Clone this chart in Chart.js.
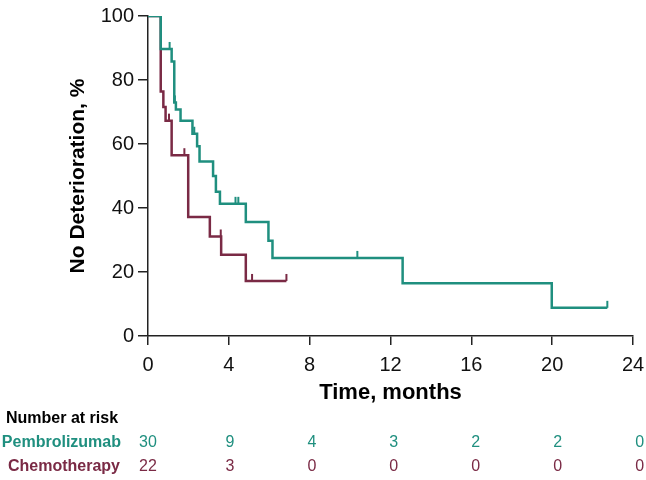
<!DOCTYPE html>
<html>
<head>
<meta charset="utf-8">
<script src="https://cdn.jsdelivr.net/npm/chart.js@4/dist/chart.umd.min.js"></script>
<style>
  html, body { margin: 0; padding: 0; background: #fff; }
  #wrap { width: 646px; height: 480px; }
</style>
</head>
<body>
<div id="wrap"><canvas id="km"></canvas></div>
<script>
// Kaplan-Meier steps (time in months, % without deterioration)
var pembroTimes  = [0, 0.63, 1.17, 1.30, 1.38, 1.61, 2.20, 2.43, 2.55, 3.22, 3.36, 3.56, 4.84, 5.96, 6.16, 12.6, 19.98, 22.73];
var pembroValues = [100, 89.7, 85.8, 73.0, 70.8, 67.3, 63.2, 59.3, 54.5, 50.0, 45.1, 41.3, 35.6, 29.8, 24.4, 16.5, 8.8, 8.8];
var pembroCensorTimes  = [0.66, 1.07, 1.33, 2.29, 4.33, 4.47, 10.36, 22.73];
var pembroCensorValues = [100, 89.7, 73.0, 63.2, 41.3, 41.3, 24.4, 8.8];

var chemoTimes  = [0, 0.63, 0.76, 0.87, 1.17, 1.99, 3.06, 3.62, 4.84, 6.85];
var chemoValues = [100, 76.4, 71.6, 67.3, 56.5, 37.2, 31.1, 25.4, 17.2, 17.2];
var chemoCensorTimes  = [1.04, 1.80, 3.60, 5.15, 6.85];
var chemoCensorValues = [67.3, 56.5, 31.1, 17.2, 17.2];

var riskTimes = [0, 4, 8, 12, 16, 20, 24];
var pembroAtRisk = [30, 9, 4, 3, 2, 2, 0];
var chemoAtRisk  = [22, 3, 0, 0, 0, 0, 0];

var teal = '#1f8f7f';
var maroon = '#7a2a45';
var font = "'Liberation Sans', Arial, sans-serif";

function pts(xs, ys) {
  return xs.map(function(x, i) { return { x: x, y: ys[i] }; });
}

// draws the "Number at risk" table under the x axis, aligned with the x scale
var riskTable = {
  id: 'riskTable',
  afterDraw: function(chart) {
    var ctx = chart.ctx;
    var xs = chart.scales.x;
    ctx.save();
    ctx.textBaseline = 'middle';
    ctx.font = 'bold 16px ' + font;
    ctx.fillStyle = '#000';
    ctx.textAlign = 'left';
    ctx.fillText('Number at risk', 6, 419);
    ctx.textAlign = 'right';
    ctx.fillStyle = teal;
    ctx.fillText('Pembrolizumab', 121, 443);
    ctx.fillStyle = maroon;
    ctx.fillText('Chemotherapy', 120, 467);
    ctx.font = '16px ' + font;
    ctx.textAlign = 'center';
    riskTimes.forEach(function(t, i) {
      var px = xs.getPixelForValue(t) + i * 1.1;
      ctx.fillStyle = teal;
      ctx.fillText(String(pembroAtRisk[i]), px, 443);
      ctx.fillStyle = maroon;
      ctx.fillText(String(chemoAtRisk[i]), px, 467);
    });
    ctx.restore();
  }
};

new Chart(document.getElementById('km'), {
  type: 'line',
  data: {
    datasets: [
      {
        label: 'Pembrolizumab',
        data: pts(pembroTimes, pembroValues),
        borderColor: teal, borderWidth: 2.5, stepped: 'before',
        pointRadius: 0, fill: false
      },
      {
        label: 'Chemotherapy',
        data: pts(chemoTimes, chemoValues),
        borderColor: maroon, borderWidth: 2.5, stepped: 'before',
        pointRadius: 0, fill: false
      },
      {
        label: 'Pembrolizumab censored',
        data: pts(pembroCensorTimes, pembroCensorValues),
        showLine: false, pointStyle: 'dash', rotation: -90,
        pointRadius: 7, pointBorderColor: teal, pointBorderWidth: 2,
        pointHoverRadius: 7
      },
      {
        label: 'Chemotherapy censored',
        data: pts(chemoCensorTimes, chemoCensorValues),
        showLine: false, pointStyle: 'dash', rotation: -90,
        pointRadius: 7, pointBorderColor: maroon, pointBorderWidth: 2,
        pointHoverRadius: 7
      }
    ]
  },
  options: {
    responsive: true,
    maintainAspectRatio: false,
    animation: false,
    layout: { padding: { top: 11, right: 13, bottom: 70, left: 66 } },
    plugins: { legend: { display: false }, tooltip: { enabled: false } },
    scales: {
      x: {
        type: 'linear', min: 0, max: 24,
        afterFit: function(s) { s.height = 74; s.paddingLeft = 0; s.paddingRight = 0; },
        border: { color: '#222', width: 1.5 },
        grid: { drawOnChartArea: false, tickLength: 9, color: '#222', lineWidth: 1.5 },
        ticks: { stepSize: 4, color: '#111', font: { family: font, size: 20 }, padding: 8 },
        title: { display: true, text: 'Time, months', color: '#000',
                 font: { family: font, size: 22, weight: 'bold' }, padding: { top: 3 } }
      },
      y: {
        min: 0, max: 100,
        afterFit: function(s) { s.width = 82; },
        border: { color: '#222', width: 1.5 },
        grid: { drawOnChartArea: false, tickLength: 10, color: '#222', lineWidth: 1.5 },
        ticks: { stepSize: 20, color: '#111', font: { family: font, size: 20 }, padding: 4 },
        title: { display: true, text: 'No Deterioration, %', color: '#000',
                 font: { family: font, size: 21, weight: 'bold' }, padding: { top: 0, bottom: 0 } }
      }
    }
  },
  plugins: [riskTable]
});
</script>
</body>
</html>
